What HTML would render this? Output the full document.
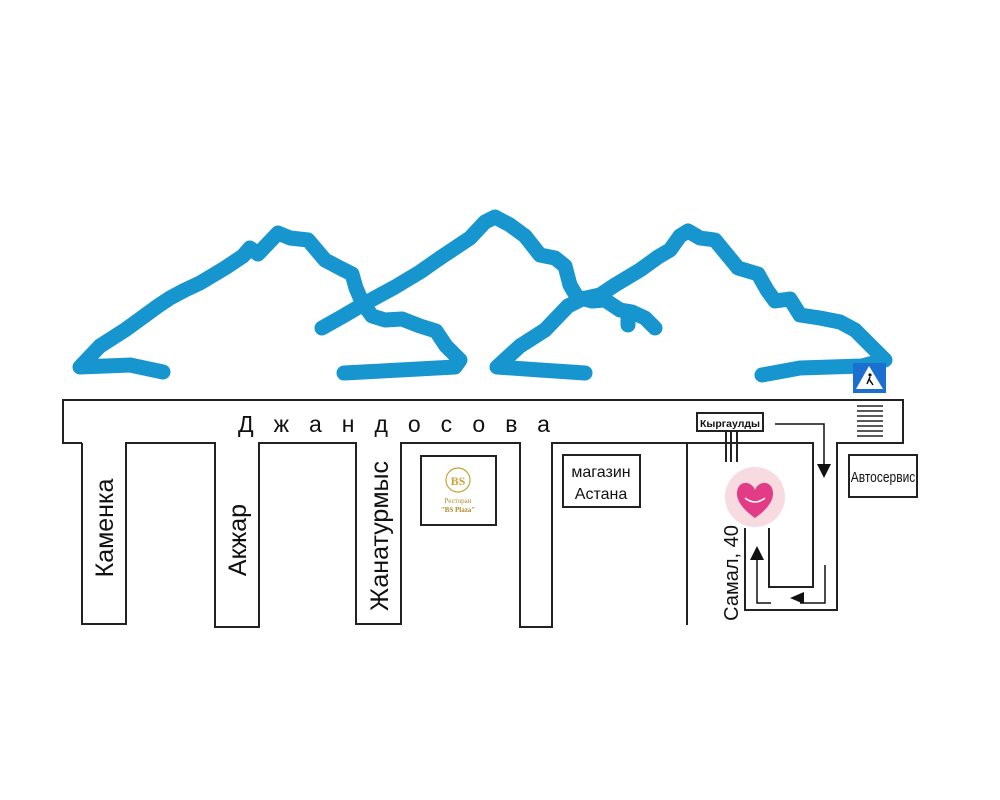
<!DOCTYPE html>
<html><head><meta charset="utf-8"><style>
html,body{margin:0;padding:0;background:#fff;}
svg{display:block;}
text{font-family:"Liberation Sans",sans-serif;}
</style></head><body>
<svg width="1000" height="800" viewBox="0 0 1000 800" xmlns="http://www.w3.org/2000/svg">
<rect width="1000" height="800" fill="#fff"/>
<g fill="none" stroke="#1795cf" stroke-width="15" stroke-linecap="round" stroke-linejoin="round">
<path d="M163,372 L130,365 L80,367 L100,346 L125,330 L158,306 L170,298 L185,290 L200,283 L225,268 L243,256 L250,248 L258,254 L278,233 L290,238 L308,240 L325,260 L340,268 L352,274 L356,288 L362,302 L372,316 L385,320 L402,319 L420,326 L436,331 L446,346 L460,360 L455,367 L400,370 L344,373"/>
<path d="M322,328 L345,315 L362,305 L395,287 L420,272 L440,258 L458,246 L470,238 L485,222 L495,217 L510,225 L525,236 L540,255 L555,258 L565,266 L570,285 L577,297 L592,301 L605,300 L620,310 L632,312 L645,318 L655,328 M628,312 L628,325"/>
<path d="M585,373 L540,370 L497,367 L520,346 L545,330 L568,306 L582,299 L600,295 L615,285 L640,270 L658,257 L670,250 L680,236 L688,231 L700,238 L715,240 L738,268 L758,274 L767,290 L775,301 L790,299 L800,315 L820,318 L840,322 L855,330 L870,345 L885,360 L862,366 L800,368 L762,375"/>
</g>
<g fill="none" stroke="#222" stroke-width="2">
<path d="M82,443 L63,443 L63,400 L903,400 L903,443 L837,443 L837,610 L745,610 L745,528"/>
<path d="M82,443 L82,624 L126,624 L126,443 L215,443 L215,627 L259,627 L259,443 L356,443 L356,624 L401,624 L401,443 L520,443 L520,627 L552,627 L552,443 L687,443 L687,625"/>
<path d="M687,443 L813,443 L813,587 L769,587 L769,528"/>
<rect x="421" y="456" width="75" height="69"/>
<rect x="563" y="455" width="77" height="52"/>
<rect x="849" y="455" width="68" height="42"/>
<rect x="697" y="413" width="66" height="18"/>
<path d="M726,431 V462 M731,431 V462 M737,431 V462"/>
</g>
<g stroke="#222" stroke-width="1.5">
<path d="M857,406 H883 M857,411 H883 M857,416 H883 M857,421 H883 M857,426 H883 M857,431 H883 M857,436 H883"/>
</g>
<g fill="none" stroke="#111" stroke-width="1.5">
<path d="M775,424 H824 V465"/>
<path d="M825,565 V603 H800"/>
<path d="M771,603 H757 V558"/>
</g>
<g fill="#111">
<polygon points="817,464 831,464 824,478"/>
<polygon points="790,598 804,592 804,604"/>
<polygon points="750,560 764,560 757,546"/>
</g>
<rect x="853" y="363" width="33" height="30" fill="#1a6fd0"/>
<polygon points="869,366 883,389 856,389" fill="#fff"/>
<circle cx="870" cy="375" r="1.6" fill="#111"/>
<path d="M870,377 L867,384 M869,379 L873,385" stroke="#111" stroke-width="1.5"/>
<circle cx="755" cy="497" r="30" fill="#f7dbe0"/>
<path d="M755,518 C738,506 735,496 738,488 C742,480 752,482 755,490 C758,482 768,480 772,488 C775,496 772,506 755,518 Z" fill="#e33c86"/>
<path d="M745,498 Q755,506 765,498" stroke="#fff" stroke-width="1.5" fill="none"/>
<circle cx="458" cy="480" r="12" fill="none" stroke="#c9a23a" stroke-width="1.2"/>
<text x="458" y="485" font-size="12" font-weight="bold" fill="#c9a23a" text-anchor="middle" style="font-family:'Liberation Serif',serif">BS</text>
<text x="458" y="503" font-size="7" fill="#b08a2a" text-anchor="middle" style="font-family:'Liberation Serif',serif">Ресторан</text>
<text x="458" y="512" font-size="7" font-weight="bold" fill="#b08a2a" text-anchor="middle" style="font-family:'Liberation Serif',serif">"BS Plaza"</text>
<text x="238" y="432" font-size="23" fill="#111" letter-spacing="20">Джандосова</text>
<text x="601" y="477" font-size="16" fill="#111" text-anchor="middle">магазин</text>
<text x="601" y="499" font-size="16" fill="#111" text-anchor="middle">Астана</text>
<text x="883" y="482" font-size="15" fill="#111" text-anchor="middle" transform="translate(883,0) scale(0.8,1) translate(-883,0)">Автосервис</text>
<text x="730" y="427" font-size="10.5" font-weight="bold" fill="#111" text-anchor="middle">Кыргаулды</text>
<text transform="translate(113,528) rotate(-90)" font-size="25" fill="#111" text-anchor="middle">Каменка</text>
<text transform="translate(246,540) rotate(-90)" font-size="25" fill="#111" text-anchor="middle">Акжар</text>
<text transform="translate(388,536) rotate(-90)" font-size="25" fill="#111" text-anchor="middle">Жанатурмыс</text>
<text transform="translate(738,573) rotate(-90)" font-size="20" fill="#111" text-anchor="middle">Самал, 40</text>
</svg>
</body></html>
